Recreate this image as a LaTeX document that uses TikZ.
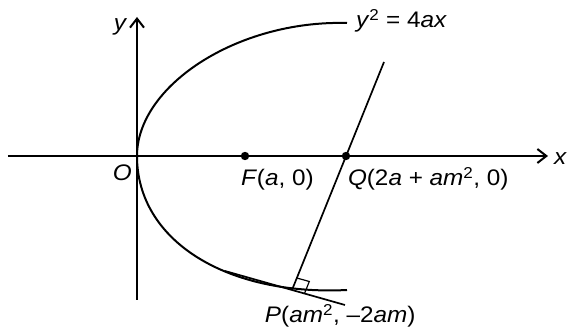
\documentclass[tikz,border=0pt]{standalone}
\usepackage{fontspec}
\setmainfont{Liberation Sans}
\newfontfamily\lblfont[FakeStretch=1.08]{Liberation Sans}
\usetikzlibrary{arrows.meta, calc}

\begin{document}
\begin{tikzpicture}[x=1pt, y=1pt, line width=2pt,
  lbl/.style={anchor=base west, inner sep=0pt, font=\lblfont\fontsize{22.5}{26}\selectfont},
  axis/.style={-{Straight Barb[length=9pt, width=14pt, line width=2pt]}}]

\useasboundingbox (-137,-175) rectangle (434,156);

% points
\coordinate (O) at (0,0);
\coordinate (F) at (108,0);
\coordinate (Q) at (209,0);
\coordinate (P) at (155,-134);
\coordinate (N) at (247,94);
\coordinate (T1) at (88,-115);
\coordinate (T2) at (208,-149);

% axes
\draw[axis] (-129,0) -- (411,0);
\draw[axis] (0,-144) -- (0,139);

% curve
\draw (210,-134) .. controls (90,-140) and (0,-85) .. (O)
  .. controls (0,70) and (100,136) .. (210,133);

% tangent and normal
\draw[line width=1.7pt] (T1) -- (T2);
\draw[line width=1.7pt] (P) -- (N);
\draw[line width=1.2pt] ($(P)+(12.5,-3.5)$) -- ++(4.8,12) -- ++(-12.5,3.5);

\fill (F) circle (4.2pt);
\fill (Q) circle (4.2pt);

% labels
\node[lbl] at (-24,125) {\textit{y}};
\node[lbl] at (416,-9) {\textit{x}};
\node[lbl] at (-25,-25) {\textit{O}};
\node[lbl] at (218,128) {\textit{y}\textsuperscript{2} = 4\textit{ax}};
\node[lbl] at (103,-30) {\textit{F}(\textit{a}, 0)};
\node[lbl] at (210,-30) {\textit{Q}(2\textit{a} + \textit{am}\textsuperscript{2}, 0)};
\node[lbl] at (127,-167) {\textit{P}(\textit{am}\textsuperscript{2}, –2\textit{am})};

\end{tikzpicture}
\end{document}
